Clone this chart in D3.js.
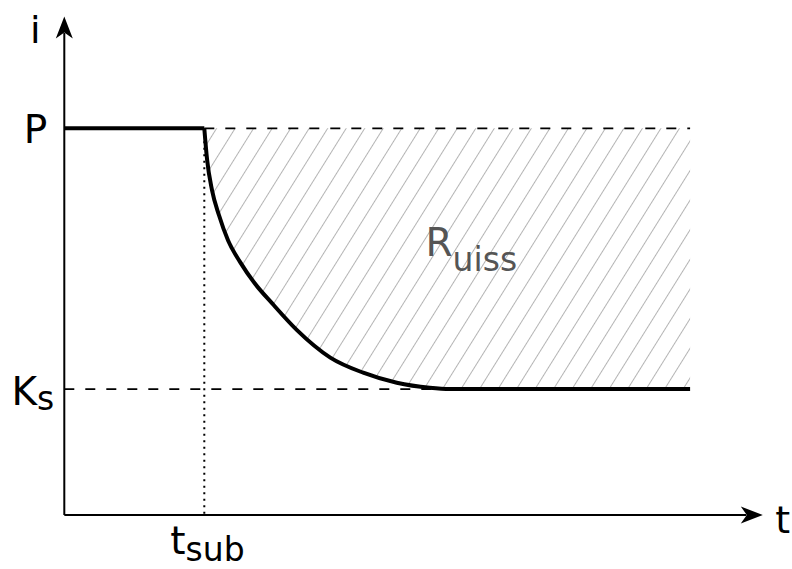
<!DOCTYPE html>
<html>
<head>
<meta charset="utf-8">
<script src="https://cdn.jsdelivr.net/npm/d3@7"></script>
<style>
  body { margin: 0; background: #fff; }
  text { font-family: "DejaVu Sans", sans-serif; }
</style>
</head>
<body>
<div id="chart"></div>
<script>
// levels on the i axis
let levelNames = ["P", "Ks"]
let levelValues = [3.07, 1]

// time where the decay starts and where the drawing stops
let tSub = 2
let tEnd = 8.94

// decay of i after t_sub
let decayT = [2, 2.04, 2.11, 2.21, 2.34, 2.51, 2.72, 2.97, 3.32, 3.80, 4.27, 4.75, 5.22, 5.51, 8.94]
let decayI = [3.07, 2.82, 2.58, 2.38, 2.18, 2.01, 1.84, 1.68, 1.47, 1.25, 1.13, 1.05, 1.01, 1.0, 1.0]

let width = 792, height = 569

let svg = d3.select("#chart").append("svg")
  .attr("width", width)
  .attr("height", height)

let x = d3.scaleLinear().domain([0, 10]).range([64.3, 764.3])
let y = d3.scaleLinear().domain([0, 3.97]).range([515, 15])

let P = levelValues[0]
let Ks = levelValues[1]
let decay = decayT.map((t, k) => ({t: t, i: decayI[k]}))

// hatch pattern
let defs = svg.append("defs")
let pat = defs.append("pattern")
  .attr("id", "hatch")
  .attr("patternUnits", "userSpaceOnUse")
  .attr("width", 15.7)
  .attr("height", 15.7)
  .attr("patternTransform", "rotate(32)")
pat.append("line")
  .attr("x1", 0.5).attr("y1", -1)
  .attr("x2", 0.5).attr("y2", 17)
  .style("stroke", "#b4b4b4")
  .style("stroke-width", 1)

// hatched area between P and the curve
let area = d3.area()
  .x(d => x(d.t))
  .y0(y(P))
  .y1(d => y(d.i))
  .curve(d3.curveMonotoneX)

svg.append("path")
  .datum(decay)
  .attr("d", area)
  .style("fill", "url(#hatch)")

// dashed level lines
svg.append("line")
  .attr("x1", x(tSub)).attr("x2", x(tEnd))
  .attr("y1", y(P)).attr("y2", y(P))
  .style("stroke", "#000")
  .style("stroke-width", 1.8)
  .style("stroke-dasharray", "10,11")

svg.append("line")
  .attr("x1", x(0)).attr("x2", x(tEnd))
  .attr("y1", y(Ks)).attr("y2", y(Ks))
  .style("stroke", "#000")
  .style("stroke-width", 1.8)
  .style("stroke-dasharray", "10,11")

// dotted line at t_sub
svg.append("line")
  .attr("x1", x(tSub)).attr("x2", x(tSub))
  .attr("y1", y(P)).attr("y2", y(0))
  .style("stroke", "#000")
  .style("stroke-width", 2)
  .style("stroke-dasharray", "2,4.5")

// axes
svg.append("line")
  .attr("x1", x(0)).attr("x2", x(10) - 18)
  .attr("y1", y(0)).attr("y2", y(0))
  .style("stroke", "#000")
  .style("stroke-width", 2)

svg.append("line")
  .attr("x1", x(0)).attr("x2", x(0))
  .attr("y1", y(0)).attr("y2", y(3.97) + 18)
  .style("stroke", "#000")
  .style("stroke-width", 2)

// arrow heads (tip, back corner, notch, back corner)
function arrowHead(tx, ty, angle) {
  let pts = [[0, 0], [-22, -8.5], [-16, 0], [-22, 8.5]]
  let a = angle * Math.PI / 180
  return "M" + pts.map(p => [
    tx + p[0] * Math.cos(a) - p[1] * Math.sin(a),
    ty + p[0] * Math.sin(a) + p[1] * Math.cos(a)
  ].join(",")).join("L") + "Z"
}

svg.append("path")
  .attr("d", arrowHead(x(10) - 1.5, y(0), 0))
  .style("fill", "#000")

svg.append("path")
  .attr("d", arrowHead(x(0), y(3.97) + 1.5, -90))
  .style("fill", "#000")

// the current curve: flat at P, then decay to Ks
svg.append("line")
  .attr("x1", x(0)).attr("x2", x(tSub))
  .attr("y1", y(P)).attr("y2", y(P))
  .style("stroke", "#000")
  .style("stroke-width", 4)

let line = d3.line()
  .x(d => x(d.t))
  .y(d => y(d.i))
  .curve(d3.curveMonotoneX)

svg.append("path")
  .datum(decay)
  .attr("d", line)
  .style("fill", "none")
  .style("stroke", "#000")
  .style("stroke-width", 4)
  .style("stroke-linejoin", "round")

// labels
svg.append("text")
  .attr("x", x(0) - 29).attr("y", 43)
  .attr("text-anchor", "middle")
  .style("font-size", "38px")
  .text("i")

svg.append("text")
  .attr("x", x(10) + 11).attr("y", y(0) + 18)
  .style("font-size", "38px")
  .text("t")

svg.append("text")
  .attr("x", x(0) - 17).attr("y", y(P) + 15)
  .attr("text-anchor", "end")
  .style("font-size", "39px")
  .text(levelNames[0])

let ksLabel = svg.append("text")
  .attr("x", x(0) - 10).attr("y", y(Ks) + 16)
  .attr("text-anchor", "end")
  .style("font-size", "39px")
ksLabel.append("tspan").text(levelNames[1][0])
ksLabel.append("tspan")
  .attr("dy", 5)
  .style("font-size", "33px")
  .text(levelNames[1].slice(1))

let tsubLabel = svg.append("text")
  .attr("x", x(tSub) - 34).attr("y", y(0) + 39)
  .style("font-size", "39px")
tsubLabel.append("tspan").text("t")
tsubLabel.append("tspan")
  .attr("dy", 7)
  .style("font-size", "33px")
  .text("sub")

let rLabel = svg.append("text")
  .attr("x", x(5.16)).attr("y", y(2.06))
  .style("font-size", "39px")
  .style("fill", "#555")
rLabel.append("tspan").text("R")
rLabel.append("tspan")
  .attr("dy", 15)
  .style("font-size", "33px")
  .text("uiss")
</script>
</body>
</html>
